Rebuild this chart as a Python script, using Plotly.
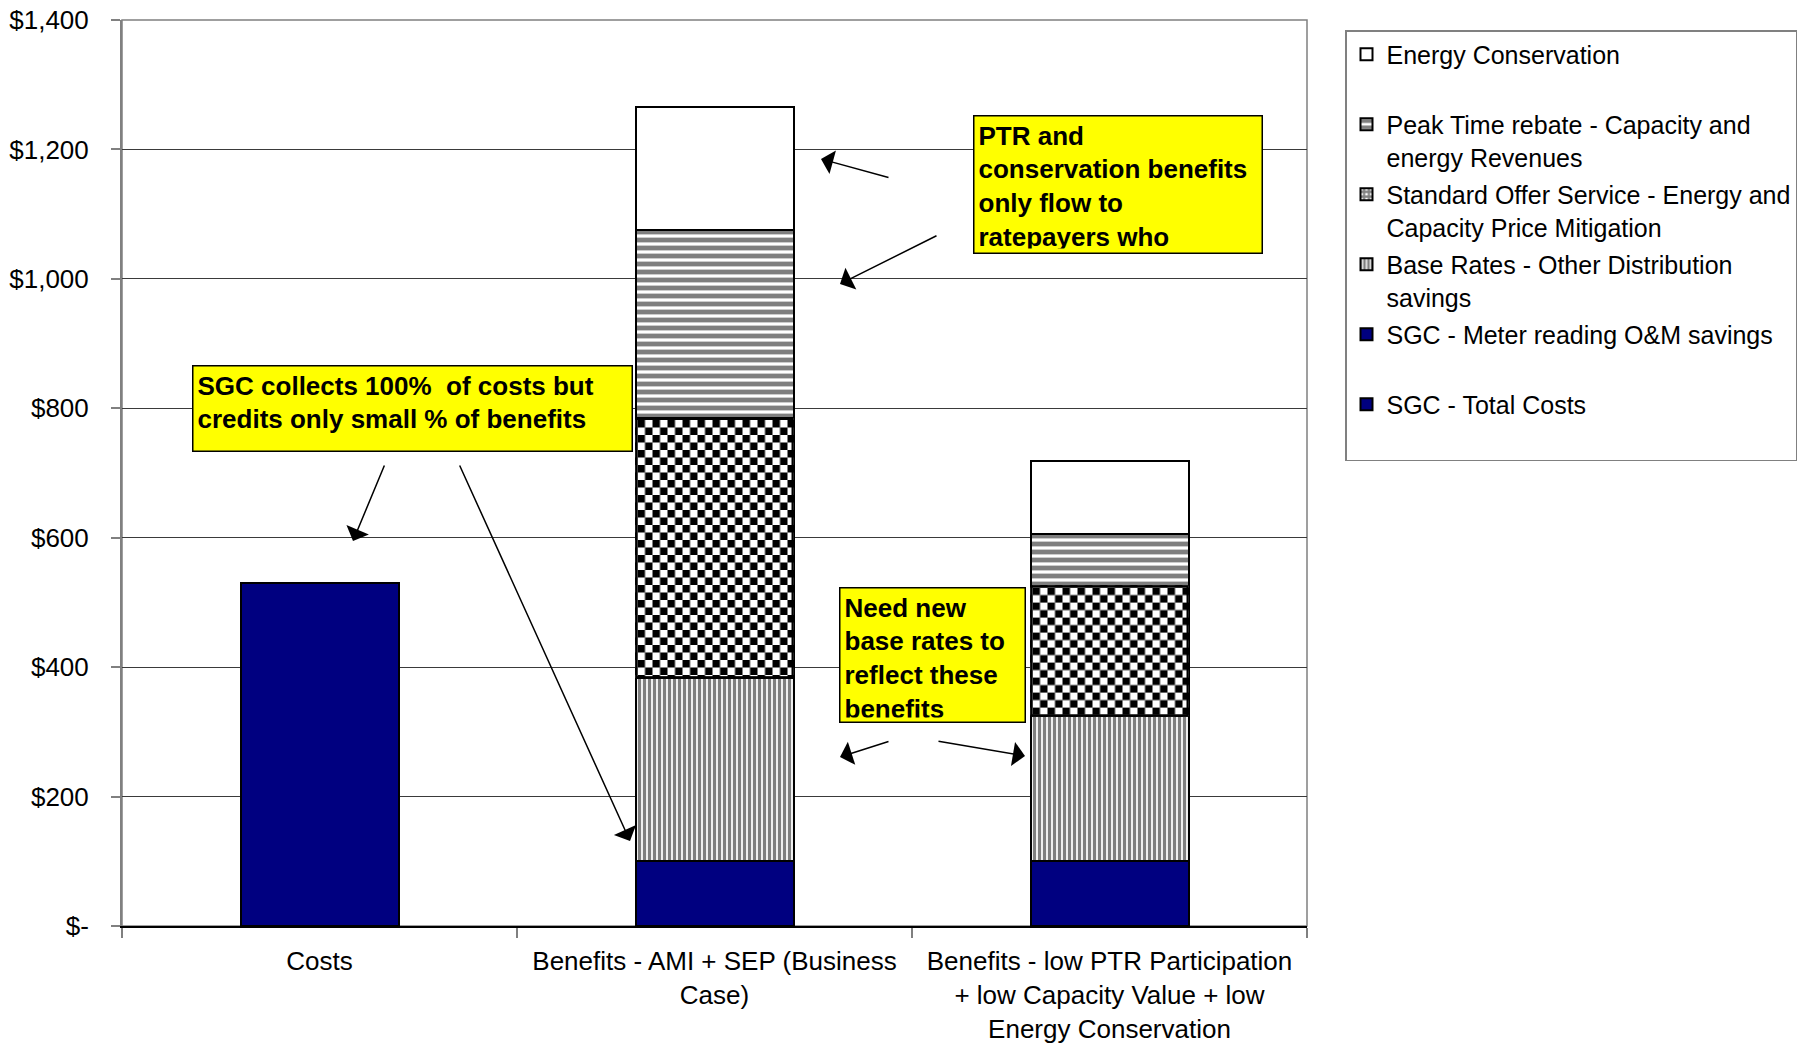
import base64
import plotly.graph_objects as go

# ---- data -------------------------------------------------------------
category_labels = [
    "Costs",
    "Benefits - AMI + SEP (Business<br>Case)",
    "Benefits - low PTR Participation<br>+ low Capacity Value + low<br>Energy Conservation",
]
category_pos = [0, 1, 2]

cost_x = [0]
sgc_total_costs = [530]

benefit_x = [1, 2]
sgc_meter_reading = [100, 100]
base_rates = [283, 224]
standard_offer = [402, 202]
peak_time_rebate = [290, 80]
energy_conservation = [190, 113]

y_tick_vals = [0, 200, 400, 600, 800, 1000, 1200, 1400]
y_tick_text = ["$-", "$200", "$400", "$600", "$800", "$1,000", "$1,200", "$1,400"]

# ---- layout constants ---------------------------------------------------
W, H = 1799, 1045
M_L, M_R, M_T, M_B = 122, 492, 20, 119
PLOT_W = W - M_L - M_R
PLOT_H = H - M_T - M_B
X_RANGE = [-0.5, 2.5]
Y_RANGE = [0, 1400]
BAR_W = 0.4
FONT = "Liberation Sans, Arial, sans-serif"
NAVY = "#000080"
OUTLINE = dict(color="black", width=2)

fig = go.Figure()

# legendrank puts Energy Conservation at the top of the legend
fig.add_trace(go.Bar(
    x=cost_x, y=sgc_total_costs, width=BAR_W, name="SGC - Total Costs<br> ",
    legendgroup="g6", legendrank=6, marker=dict(color=NAVY, line=OUTLINE)))
fig.add_trace(go.Bar(
    x=benefit_x, y=sgc_meter_reading, width=BAR_W, name="SGC - Meter reading O&amp;M savings<br> ",
    legendgroup="g5", legendrank=5, marker=dict(color=NAVY, line=OUTLINE)))
fig.add_trace(go.Bar(
    x=benefit_x, y=base_rates, width=BAR_W, name="Base Rates - Other Distribution<br>savings",
    legendgroup="g4", legendrank=4,
    marker=dict(color="white", line=OUTLINE,
                pattern=dict(shape="|", size=5, solidity=0.65, fgcolor="black", bgcolor="white"))))
fig.add_trace(go.Bar(
    x=benefit_x, y=standard_offer, width=BAR_W,
    name="Standard Offer Service - Energy and<br>Capacity Price Mitigation",
    legendgroup="g3", legendrank=3,
    marker=dict(color="white", line=OUTLINE,
                pattern=dict(shape="+", size=6, solidity=0.7, fgcolor="black", bgcolor="white"))))
fig.add_trace(go.Bar(
    x=benefit_x, y=peak_time_rebate, width=BAR_W,
    name="Peak Time rebate - Capacity and<br>energy Revenues",
    legendgroup="g2", legendrank=2,
    marker=dict(color="white", line=OUTLINE,
                pattern=dict(shape="-", size=8, solidity=0.6, fgcolor="black", bgcolor="white"))))
fig.add_trace(go.Bar(
    x=benefit_x, y=energy_conservation, width=BAR_W, name="Energy Conservation<br> ",
    legendgroup="g1", legendrank=1, marker=dict(color="white", line=OUTLINE)))

# ---- checkerboard fill for the Standard Offer Service segments ----------
px_per_x = PLOT_W / (X_RANGE[1] - X_RANGE[0])
px_per_y = PLOT_H / (Y_RANGE[1] - Y_RANGE[0])
SQ = 7.5
images = []
for xi, m, b, seg in zip(benefit_x, sgc_meter_reading, base_rates, standard_offer):
    w = BAR_W * px_per_x
    h = seg * px_per_y
    svg = (
        f'<svg xmlns="http://www.w3.org/2000/svg" width="{w:.2f}" height="{h:.2f}" '
        f'viewBox="0 0 {w:.2f} {h:.2f}" preserveAspectRatio="none">'
        f'<defs><pattern id="c" x="2" y="2" width="{2*SQ}" height="{2*SQ}" patternUnits="userSpaceOnUse">'
        f'<rect width="{2*SQ}" height="{2*SQ}" fill="white"/>'
        f'<rect width="{SQ}" height="{SQ}" fill="black"/>'
        f'<rect x="{SQ}" y="{SQ}" width="{SQ}" height="{SQ}" fill="black"/>'
        f'</pattern></defs>'
        f'<rect width="{w:.2f}" height="{h:.2f}" fill="url(#c)"/>'
        f'<rect width="{w:.2f}" height="{h:.2f}" fill="none" stroke="black" stroke-width="4"/>'
        f'</svg>'
    )
    src = "data:image/svg+xml;base64," + base64.b64encode(svg.encode()).decode()
    images.append(dict(
        source=src, xref="x", yref="y", x=xi - BAR_W / 2, y=m + b + seg,
        sizex=BAR_W, sizey=seg, xanchor="left", yanchor="top",
        sizing="stretch", layer="above"))


# ---- call-out boxes and arrows (page pixel positions) -------------------
def px_to_paper(px, py):
    return (px - M_L) / PLOT_W, (M_T + PLOT_H - py) / PLOT_H


def callout(text, left, top, right, bottom):
    x, y = px_to_paper(left, top)
    pad, bw = 4, 1.5
    return dict(
        text=text, xref="paper", yref="paper", x=x, y=y,
        xanchor="left", yanchor="top", showarrow=False,
        width=right - left - 2 * pad - 2 * bw, height=bottom - top - 2 * pad - 2 * bw,
        align="left", valign="top", bgcolor="#FFFF00",
        bordercolor="black", borderwidth=bw, borderpad=pad,
        font=dict(family=FONT, size=26, color="black"))


def arrow(head, tail):
    x, y = px_to_paper(*head)
    return dict(
        text="", xref="paper", yref="paper", x=x, y=y,
        ax=tail[0] - head[0], ay=tail[1] - head[1], axref="pixel", ayref="pixel",
        showarrow=True, arrowhead=1, arrowsize=2.7, arrowwidth=1.5, arrowcolor="black")


annotations = [
    callout("<b>SGC collects 100%  of costs but<br>credits only small % of benefits</b>",
            192, 365, 633, 452),
    callout("<b>PTR and<br>conservation benefits<br>only flow to<br>ratepayers who</b>",
            973, 115, 1263, 254),
    callout("<b>Need new<br>base rates to<br>reflect these<br>benefits</b>",
            839, 587, 1026, 723),
    arrow((353, 541), (385, 464)),
    arrow((630, 841), (459, 464)),
    arrow((821, 159), (890, 178)),
    arrow((840, 284), (938, 235)),
    arrow((840, 757), (890, 741)),
    arrow((1025, 756), (937, 741)),
]

fig.update_layout(
    width=W, height=H,
    margin=dict(l=M_L, r=M_R, t=M_T, b=M_B),
    barmode="stack",
    paper_bgcolor="white", plot_bgcolor="white",
    font=dict(family=FONT, size=26, color="black"),
    xaxis=dict(
        range=X_RANGE, tickvals=category_pos, ticktext=category_labels,
        ticks="", showgrid=False, zeroline=False, automargin=False,
        showline=True, linecolor="black", linewidth=1.5,
        ticklabelstandoff=11,
        tickfont=dict(family=FONT, size=26, color="black"),
        minor=dict(tickvals=[-0.5, 0.5, 1.5, 2.5], ticks="outside", ticklen=10,
                   tickwidth=1.5, tickcolor="#808080", showgrid=False),
    ),
    yaxis=dict(
        range=Y_RANGE, tickvals=y_tick_vals, ticktext=y_tick_text,
        ticks="outside", ticklen=9, tickwidth=1.5, tickcolor="#808080",
        showgrid=True, gridcolor="#3a3a3a", gridwidth=1, automargin=False,
        zeroline=False, showline=True, linecolor="#808080", linewidth=2,
        ticklabelstandoff=17,
        tickfont=dict(family=FONT, size=26, color="black"),
    ),
    legend=dict(
        xref="container", yref="container",
        x=1345 / W, y=1 - 30 / H,
        xanchor="left", yanchor="top",
        traceorder="grouped", tracegroupgap=2, valign="top",
        bgcolor="white", bordercolor="#808080", borderwidth=1.5,
        font=dict(family=FONT, size=25, color="black"),
    ),
    shapes=[dict(type="rect", xref="paper", yref="paper", x0=0, y0=0, x1=1, y1=1,
                 line=dict(color="#808080", width=1.5), layer="below")],
    images=images,
    annotations=annotations,
    showlegend=True,
)

fig.write_html("out.html")
